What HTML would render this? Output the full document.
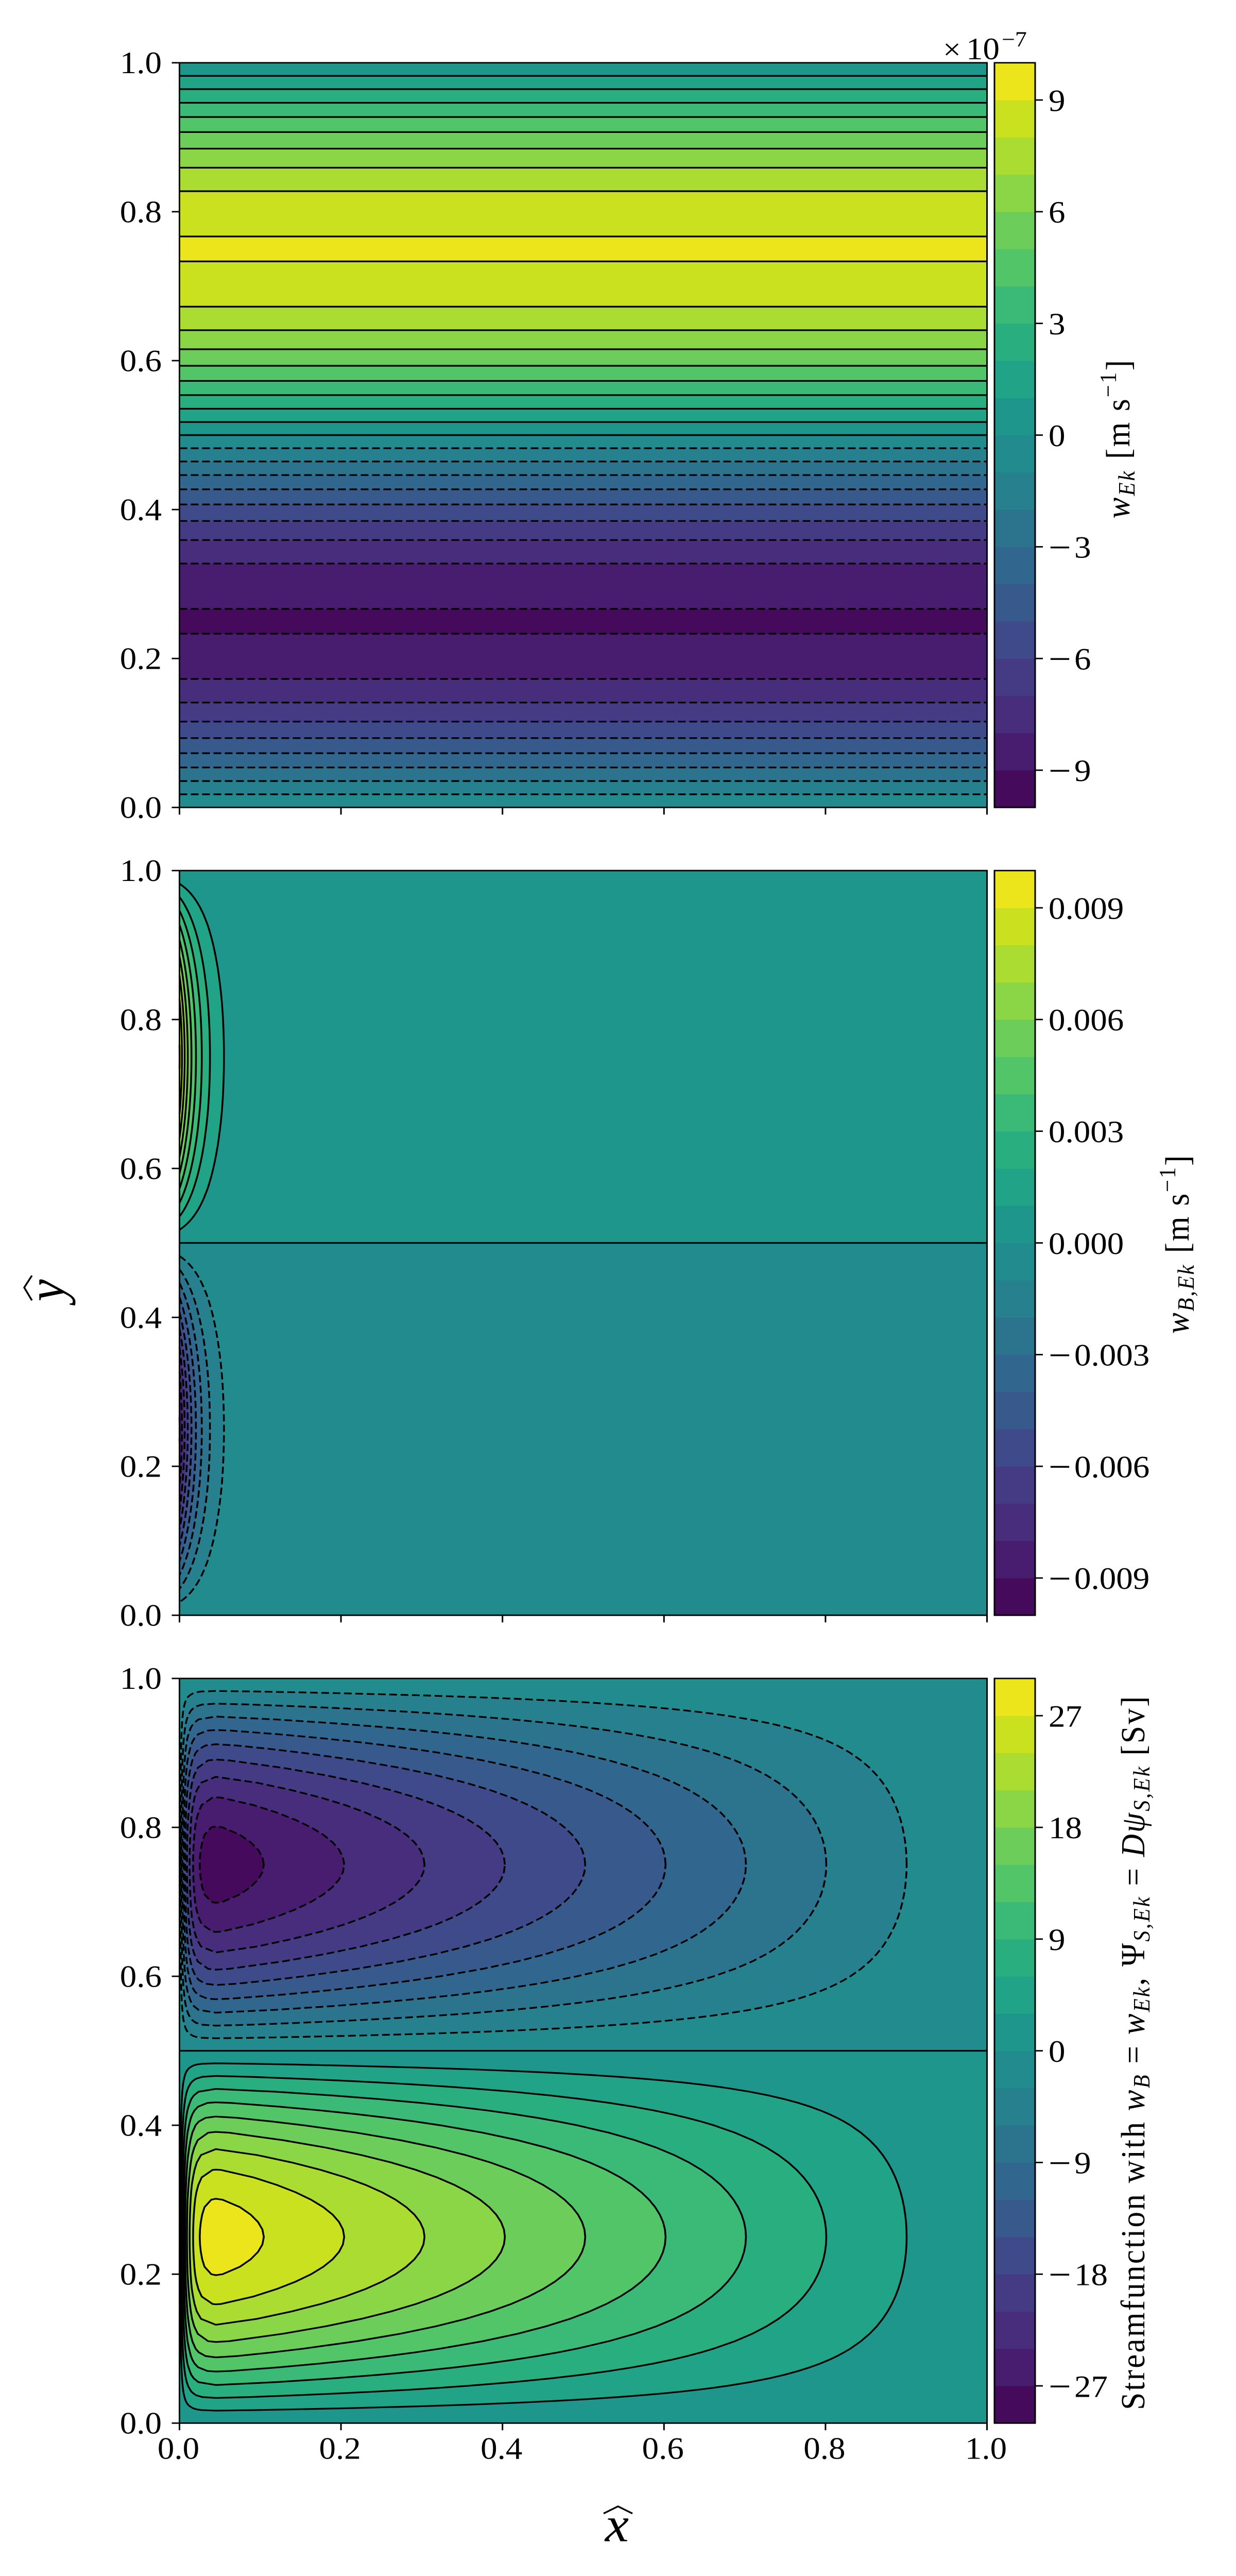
<!DOCTYPE html>
<html lang="en">
<head>
<meta charset="utf-8">
<title>Ekman velocity and streamfunction contours</title>
<style>
html,body{margin:0;padding:0;background:#fff;width:100%;height:100%;overflow:hidden;}
svg{display:block;overflow:hidden;width:100vw;height:100vh;}
text{font-family:"Liberation Serif",serif;fill:#000;}
.it{font-style:italic;}
</style>
</head>
<body>
<svg id="figure" xmlns="http://www.w3.org/2000/svg" viewBox="0 0 2400 5400" preserveAspectRatio="none">
  <rect x="0" y="0" width="2400" height="5400" fill="#fff"/>
  <g id="plots"></g>

  <text x="1831" y="124" font-size="62">×</text>
  <text x="1876" y="124" font-size="65">10</text>
  <text x="1945" y="98" font-size="46">−7</text>

  <text transform="translate(2193,1087) rotate(-90)" font-size="66" textLength="332" lengthAdjust="spacing"><tspan class="it">w</tspan><tspan class="it" font-size="46" dy="10">Ek</tspan><tspan dx="22" dy="-10">[m s</tspan><tspan font-size="46" dy="-26">−1</tspan><tspan dy="26">]</tspan></text>

  <text transform="translate(2308,2796) rotate(-90)" font-size="66" textLength="374" lengthAdjust="spacing"><tspan class="it">w</tspan><tspan class="it" font-size="46" dy="10">B,Ek</tspan><tspan dx="22" dy="-10">[m s</tspan><tspan font-size="46" dy="-26">−1</tspan><tspan dy="26">]</tspan></text>

  <text transform="translate(2222,5052) rotate(-90)" font-size="66" textLength="1496" lengthAdjust="spacing">Streamfunction with <tspan class="it">w</tspan><tspan class="it" font-size="46" dy="10">B</tspan><tspan dy="-10"> = </tspan><tspan class="it">w</tspan><tspan class="it" font-size="46" dy="10">Ek</tspan><tspan dy="-10">, Ψ</tspan><tspan class="it" font-size="46" dy="10">S,Ek</tspan><tspan dy="-10"> = </tspan><tspan class="it">Dψ</tspan><tspan class="it" font-size="46" dy="10">S,Ek</tspan><tspan dy="-10"> [Sv]</tspan></text>

  <text class="it" transform="translate(124,2705) rotate(-90)" text-anchor="middle" font-size="104">y</text>
  <polyline points="62,2674 47,2699 62,2726" fill="none" stroke="#000" stroke-width="3.5"/>
  <text class="it" x="1198" y="5327" text-anchor="middle" font-size="104">x</text>
  <polyline points="1172,5269 1200,5254 1228,5269" fill="none" stroke="#000" stroke-width="3.5"/>
</svg>

<script>
// ---- Data ----
// Top panel: latitude of each horizontal contour and its level (units of 1e-7 m/s)
const ekmanLineY = [0.0176,0.0354,0.0537,0.0728,0.0931,0.1153,0.1409,0.1725,0.2333,0.2667,0.3275,0.3591,0.3847,0.4069,0.4272,0.4463,0.4646,0.4824,0.5,0.5176,0.5354,0.5537,0.5728,0.5931,0.6153,0.6409,0.6725,0.7333,0.7667,0.8275,0.8591,0.8847,0.9069,0.9272,0.9463,0.9646,0.9824];
const ekmanLineLevel = [-1,-2,-3,-4,-5,-6,-7,-8,-9,-9,-8,-7,-6,-5,-4,-3,-2,-1,0,1,2,3,4,5,6,7,8,9,9,8,7,6,5,4,3,2,1];

// Middle panel: western-boundary amplitude along x at the lobe centre (m/s)
const wbAmpX = [0,0.00157,0.00308,0.0047,0.00642,0.00827,0.01028,0.01245,0.01484,0.01747,0.0204,0.02375,0.02761,0.03216,0.03773,0.0411,0.0449,0.04949,0.05506,0.05768,0.0606,0.064,0.08,0.12,0.2,1];
const wbAmpValue = [0.00905,0.0085,0.008,0.0075,0.007,0.0065,0.006,0.0055,0.005,0.0045,0.004,0.0035,0.003,0.0025,0.002,0.00175,0.0015,0.00125,0.001,0.0009,0.0008,0.0007,0.00037,0.00008,0.000003,0];
const wbLevels = [0.001,0.002,0.003,0.004,0.005,0.006,0.007,0.008,0.009];

// Bottom panel: streamfunction amplitude along x at the lobe centre (Sv)
const psiAmpX = [0,0.0005,0.001,0.002,0.003,0.004,0.005,0.0075,0.01,0.015,0.02,0.025,0.03,0.035,0.04,0.045,0.05,0.06,0.07,0.08,0.1,0.2,0.3,0.4,0.5,0.6,0.7,0.8,0.9,1];
const psiAmpValue = [0,1.47,2.866,5.454,7.791,9.9,11.804,15.789,18.868,23.071,25.548,26.983,27.789,28.216,28.414,28.473,28.45,28.271,28.014,27.729,27.134,24.12,21.105,18.09,15.075,12.06,9.045,6.03,3.015,0];
const psiLevels = [3,6,9,12,15,18,21,24,27];

// Relative strength across a lobe, by distance in y from the lobe centre
const lobeOffset = [0,0.01,0.02,0.03,0.04,0.05,0.06,0.07,0.08,0.09,0.1,0.11,0.12,0.13,0.14,0.15,0.155,0.16,0.165,0.17,0.175,0.18,0.185,0.19,0.195,0.2,0.2025,0.205,0.2075,0.21,0.2125,0.215,0.2175,0.22,0.2225,0.225,0.2275,0.23,0.2315,0.2325,0.2335,0.235,0.236,0.237,0.238,0.239,0.24];
const lobeShape = [1,0.99803,0.99211,0.98229,0.96858,0.95106,0.92978,0.90483,0.87631,0.84433,0.80902,0.77051,0.72897,0.68455,0.63742,0.58779,0.56208,0.53583,0.50904,0.48175,0.45399,0.42578,0.39715,0.36812,0.33874,0.30902,0.29404,0.27899,0.26387,0.24869,0.23345,0.21814,0.20278,0.18738,0.1719,0.15643,0.1409,0.12533,0.11598,0.10973,0.10348,0.09411,0.08785,0.08159,0.07532,0.06906,0.06279];

// Colour-bar ticks
const cbTicks1 = [-9,-6,-3,0,3,6,9];
const cbTickLabels1 = ['−9','−6','−3','0','3','6','9'];
const cbTicks2 = [-0.009,-0.006,-0.003,0,0.003,0.006,0.009];
const cbTickLabels2 = ['−0.009','−0.006','−0.003','0.000','0.003','0.006','0.009'];
const cbTicks3 = [-27,-18,-9,0,9,18,27];
const cbTickLabels3 = ['−27','−18','−9','0','9','18','27'];

// Axis ticks
const axisTicks = [0,0.2,0.4,0.6,0.8,1];
const axisTickLabels = ['0.0','0.2','0.4','0.6','0.8','1.0'];

// Twenty contourf band colours, lowest to highest
const bandColors = ['#460a5d','#481c6e','#472d7b','#443b84','#3e4a89','#38598c','#31668e','#2c738e','#27808e','#228b8d','#1f968b','#20a386','#29af7f','#3aba76','#52c569','#6ccd5a','#8bd646','#aadc32','#cae11f','#ece51b'];

// ---- Layout ----
const plotLeft = 348.5, plotWidth = 1568, plotHeight = 1561;
const cbLeft = 1931, cbWidth = 79;
const panelTops = [131.6, 1825, 3518.5];
const contourWidth = 3.5, spineWidth = 3, tickLength = 15, dashPattern = '15 7';
const NS = 'http://www.w3.org/2000/svg';
const root = document.getElementById('plots');

function mk(tag, parent) {
  const el = document.createElementNS(NS, tag);
  parent.appendChild(el);
  return el;
}
function sx(x) { return plotLeft + x * plotWidth; }
function syFor(top) { return function (y) { return top + (1 - y) * plotHeight; }; }
function cbScaleFor(top, maxAbs) { return function (v) { return top + (maxAbs - v) / (2 * maxAbs) * plotHeight; }; }

function pathFrom(pts, sy, close) {
  let d = '';
  pts.forEach(function (p, i) { d += (i ? 'L' : 'M') + sx(p[0]).toFixed(2) + ' ' + sy(p[1]).toFixed(2); });
  return d + (close ? 'Z' : '');
}
function branchX(xs, vals, from, to, target) {
  for (let i = from; i < to; i++) {
    const a = vals[i], b = vals[i + 1];
    if ((a <= target && target <= b) || (b <= target && target <= a)) {
      const t = b === a ? 0 : (target - a) / (b - a);
      return xs[i] + t * (xs[i + 1] - xs[i]);
    }
  }
  return xs[from];
}
function tipOffset(ratio) {
  for (let i = 0; i < lobeShape.length - 1; i++) {
    if (lobeShape[i] >= ratio && ratio >= lobeShape[i + 1]) {
      const t = (lobeShape[i] - ratio) / (lobeShape[i] - lobeShape[i + 1]);
      return lobeOffset[i] + t * (lobeOffset[i + 1] - lobeOffset[i]);
    }
  }
  return lobeOffset[lobeOffset.length - 1];
}
// Trace one contour level of a lobe; returns points in data coordinates
function lobeCurve(ampX, ampV, level, yc) {
  let peak = 0;
  ampV.forEach(function (v, i) { if (v > ampV[peak]) peak = i; });
  const ratio = level / ampV[peak];
  const last = ampX.length - 1;
  const right = [], left = [];
  for (let i = 0; i < lobeShape.length; i++) {
    if (lobeShape[i] <= ratio) break;
    const T = level / lobeShape[i];
    right.push([branchX(ampX, ampV, peak, last, T), lobeOffset[i]]);
    if (peak > 0) left.push([branchX(ampX, ampV, 0, peak, T), lobeOffset[i]]);
  }
  const top = [ampX[peak], tipOffset(ratio)];
  const pts = [];
  if (peak > 0) {
    right.forEach(function (p) { pts.push([p[0], yc + p[1]]); });
    pts.push([top[0], yc + top[1]]);
    for (let i = left.length - 1; i >= 0; i--) pts.push([left[i][0], yc + left[i][1]]);
    for (let i = 1; i < left.length; i++) pts.push([left[i][0], yc - left[i][1]]);
    pts.push([top[0], yc - top[1]]);
    for (let i = right.length - 1; i >= 1; i--) pts.push([right[i][0], yc - right[i][1]]);
  } else {
    pts.push([top[0], yc + top[1]]);
    for (let i = right.length - 1; i >= 0; i--) pts.push([right[i][0], yc + right[i][1]]);
    for (let i = 1; i < right.length; i++) pts.push([right[i][0], yc - right[i][1]]);
    pts.push([top[0], yc - top[1]]);
  }
  return pts;
}

function addClip(idx, top) {
  const cp = mk('clipPath', root);
  cp.setAttribute('id', 'clip-' + idx);
  const r = mk('rect', cp);
  r.setAttribute('x', plotLeft);
  r.setAttribute('y', top);
  r.setAttribute('width', plotWidth);
  r.setAttribute('height', plotHeight);
}

function drawBackgroundHalf(g, sy, y0, y1, colorIdx) {
  const r = mk('rect', g);
  
  
  r.setAttribute('x', sx(0));
  r.setAttribute('width', plotWidth);
  r.setAttribute('y', sy(y1));
  r.setAttribute('height', sy(y0) - sy(y1));
  r.setAttribute('fill', bandColors[colorIdx]);
}
function drawZeroLine(g, sy) {
  const h = mk('line', g);
  
  
  h.setAttribute('x1', sx(0));
  h.setAttribute('x2', sx(1));
  h.setAttribute('y1', sy(0.5));
  h.setAttribute('y2', sy(0.5));
  h.setAttribute('stroke', '#000');
  h.setAttribute('stroke-width', contourWidth);
}

// Filled lobes, outer to inner, then their contour strokes
function drawLobes(g, sy, ampX, ampV, levels, yc, negative, step) {
  const curves = levels.map(function (L) { return lobeCurve(ampX, ampV, L, yc); });
  curves.forEach(function (pts, i) {
    const n = Math.round(levels[i] / step);
    const f = mk('path', g);
    
    
    f.setAttribute('d', pathFrom(pts, sy, true));
    f.setAttribute('fill', bandColors[negative ? 9 - n : 10 + n]);
  });
  curves.forEach(function (pts) {
    const s = mk('path', g);
    
    
    s.setAttribute('d', pathFrom(pts, sy, ampX[0] === 0 && ampV[0] === 0));
    s.setAttribute('fill', 'none');
    s.setAttribute('stroke', '#000');
    s.setAttribute('stroke-width', contourWidth);
    if (negative) s.setAttribute('stroke-dasharray', dashPattern);
  });
}

function drawEkmanPanel(g, sy) {
  const ys = [0].concat(ekmanLineY, [1]);
  const ls = [0].concat(ekmanLineLevel, [0]);
  for (let i = 0; i < ys.length - 1; i++) {
    const a = ls[i], b = ls[i + 1];
    let low = Math.min(a, b);
    if (a === b) low = a > 0 ? a : a - 1;
    const r = mk('rect', g);
    
    
    r.setAttribute('x', sx(0));
    r.setAttribute('width', plotWidth);
    r.setAttribute('y', sy(ys[i + 1]));
    r.setAttribute('height', sy(ys[i]) - sy(ys[i + 1]) + 0.5);
    r.setAttribute('fill', bandColors[low + 10]);
  }
  ekmanLineY.forEach(function (y, i) {
    const l = mk('line', g);
    
    
    l.setAttribute('x1', sx(0));
    l.setAttribute('x2', sx(1));
    l.setAttribute('y1', sy(y));
    l.setAttribute('y2', sy(y));
    l.setAttribute('stroke', '#000');
    l.setAttribute('stroke-width', contourWidth);
    if (ekmanLineLevel[i] < 0) l.setAttribute('stroke-dasharray', dashPattern);
  });
}

function drawAxes(top, sy, showXLabels) {
  const frame = mk('rect', root);
  
  
  frame.setAttribute('x', plotLeft);
  frame.setAttribute('y', top);
  frame.setAttribute('width', plotWidth);
  frame.setAttribute('height', plotHeight);
  frame.setAttribute('fill', 'none');
  frame.setAttribute('stroke', '#000');
  frame.setAttribute('stroke-width', spineWidth);
  axisTicks.forEach(function (t, i) {
    const yt = mk('line', root);
    
    
    yt.setAttribute('x1', plotLeft - tickLength);
    yt.setAttribute('x2', plotLeft);
    yt.setAttribute('y1', sy(t));
    yt.setAttribute('y2', sy(t));
    yt.setAttribute('stroke', '#000');
    yt.setAttribute('stroke-width', spineWidth);
    const yl = mk('text', root);
    
    
    yl.setAttribute('x', 314);
    yl.setAttribute('y', sy(t) + 22);
    yl.setAttribute('text-anchor', 'end');
    yl.setAttribute('font-size', 65);
    yl.textContent = axisTickLabels[i];
    const xt = mk('line', root);
    
    
    xt.setAttribute('x1', sx(t));
    xt.setAttribute('x2', sx(t));
    xt.setAttribute('y1', top + plotHeight);
    xt.setAttribute('y2', top + plotHeight + tickLength);
    xt.setAttribute('stroke', '#000');
    xt.setAttribute('stroke-width', spineWidth);
    if (showXLabels) {
      const xl = mk('text', root);
      
      
      xl.setAttribute('x', sx(t) - 2);
      xl.setAttribute('y', top + plotHeight + 75);
      xl.setAttribute('text-anchor', 'middle');
      xl.setAttribute('font-size', 65);
      xl.textContent = axisTickLabels[i];
    }
  });
}

function drawColorbar(top, maxAbs, ticks, labels) {
  const cy = cbScaleFor(top, maxAbs);
  const step = maxAbs / 10;
  bandColors.forEach(function (c, i) {
    const low = -maxAbs + i * step;
    const r = mk('rect', root);
    
    
    r.setAttribute('x', cbLeft);
    r.setAttribute('width', cbWidth);
    r.setAttribute('y', cy(low + step));
    r.setAttribute('height', cy(low) - cy(low + step) + 0.5);
    r.setAttribute('fill', c);
  });
  const o = mk('rect', root);
  
  
  o.setAttribute('x', cbLeft);
  o.setAttribute('y', top);
  o.setAttribute('width', cbWidth);
  o.setAttribute('height', plotHeight);
  o.setAttribute('fill', 'none');
  o.setAttribute('stroke', '#000');
  o.setAttribute('stroke-width', spineWidth);
  ticks.forEach(function (t, i) {
    const l = mk('line', root);
    
    
    l.setAttribute('x1', cbLeft + cbWidth);
    l.setAttribute('x2', cbLeft + cbWidth + tickLength);
    l.setAttribute('y1', cy(t));
    l.setAttribute('y2', cy(t));
    l.setAttribute('stroke', '#000');
    l.setAttribute('stroke-width', spineWidth);
    const txt = mk('text', root);
    
    
    txt.setAttribute('x', 2036);
    txt.setAttribute('y', cy(t) + 23);
    txt.setAttribute('font-size', 65);
    const lab = labels[i];
    if (lab.charAt(0) === '−') {
      const m = mk('tspan', txt);
      m.setAttribute('font-size', 78);
      m.setAttribute('dy', 4);
      m.textContent = '−';
      const d = mk('tspan', txt);
      d.setAttribute('dx', 6);
      d.setAttribute('dy', -4);
      d.textContent = lab.slice(1);
    } else {
      txt.textContent = lab;
    }
  });
}

// ---- Build the three panels ----
panelTops.forEach(addClip);

const sy1 = syFor(panelTops[0]);
const g1 = mk('g', root);


g1.setAttribute('clip-path', 'url(#clip-0)');
drawEkmanPanel(g1, sy1);
drawZeroLine(g1, sy1);
drawAxes(panelTops[0], sy1, false);
drawColorbar(panelTops[0], 10, cbTicks1, cbTickLabels1);

const sy2 = syFor(panelTops[1]);
const g2 = mk('g', root);


g2.setAttribute('clip-path', 'url(#clip-1)');
drawBackgroundHalf(g2, sy2, 0.5, 1, 10);
drawBackgroundHalf(g2, sy2, 0, 0.5, 9);
drawLobes(g2, sy2, wbAmpX, wbAmpValue, wbLevels, 0.75, false, 0.001);
drawLobes(g2, sy2, wbAmpX, wbAmpValue, wbLevels, 0.25, true, 0.001);
drawZeroLine(g2, sy2);
drawAxes(panelTops[1], sy2, false);
drawColorbar(panelTops[1], 0.01, cbTicks2, cbTickLabels2);

const sy3 = syFor(panelTops[2]);
const g3 = mk('g', root);


g3.setAttribute('clip-path', 'url(#clip-2)');
drawBackgroundHalf(g3, sy3, 0, 0.5, 10);
drawBackgroundHalf(g3, sy3, 0.5, 1, 9);
drawLobes(g3, sy3, psiAmpX, psiAmpValue, psiLevels, 0.25, false, 3);
drawLobes(g3, sy3, psiAmpX, psiAmpValue, psiLevels, 0.75, true, 3);
drawZeroLine(g3, sy3);
drawAxes(panelTops[2], sy3, true);
drawColorbar(panelTops[2], 30, cbTicks3, cbTickLabels3);
</script>
</body>
</html>
